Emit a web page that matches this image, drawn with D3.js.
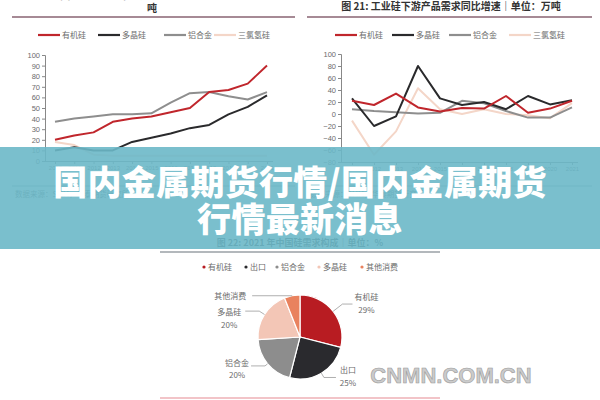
<!DOCTYPE html>
<html><head><meta charset="utf-8">
<script src="https://cdn.jsdelivr.net/npm/d3@7"></script>
<style>
html,body{margin:0;padding:0;background:#fff;}
svg{display:block;font-family:"Noto Sans CJK SC","Noto Sans",sans-serif;}
</style></head>
<body><svg id="c" width="600" height="400"></svg>
<script>
// ---------- data ----------
const seriesNames = ["有机硅","多晶硅","铝合金","三氯氢硅"];
const seriesColors = ["#c0262c","#2a2a2c","#8e8e8e","#f4d6c8"];
// Chart 20: demand (万吨)
const yearsA = ["2010","2011","2012","2013","2014","2015","2016","2017","2018","2019","2020","2021"];
const organicA = [20,24,27,37,40,42,46,50,65,67,73,90];
const polyA    = [10,13,10,10,18,22,26,31,34,44,51,62];
const alloyA   = [37,40,42,44,44,45,55,64,65,61,58,65];
const tcsA     = [18,15,6,5,5,5,5,5,5,5,5,5];
const yTicksA  = [0,10,20,30,40,50,60,70,80,90,100];
// Chart 21: YoY growth (%)
const yearsB = ["2011","2012","2013","2014","2015","2016","2017","2018","2019","2020","2021"];
const organicB = [22,15,34,11,4,10,9,30,2,9,22];
const polyB    = [26,-20,-4,80,26,15,20,8,30,16,23];
const alloyB   = [8,5,3,1,2,22,18,5,-6,-6,11];
const tcsB     = [-11,-68,-29,43,8,0,8,0,-2,-7,18];
const yTicksB  = [-80,-60,-40,-20,0,20,40,60,80,100];
// Chart 22: 2021 structure (%)
const pieNames  = ["有机硅","出口","铝合金","多晶硅","其他消费"];
const pieValues = [29,25,20,20,6];
const pieLabels = ["29%","25%","20%","20%",""];
const pieColors = ["#b81c22","#2a2a2e","#8d8d8d","#f3c6b6","#e9825e"];

const svg = d3.select("#c");
const txt = "#6b6b6b";

// ---------- headers ----------
svg.append("text").attr("x",150).attr("y",-1).attr("text-anchor","middle")
  .attr("font-size",10).attr("font-weight",700).attr("fill","#333")
  .text("图 20: 工业硅下游产品需求量｜单位：万");
svg.append("text").attr("x",152).attr("y",12).attr("text-anchor","middle")
  .attr("font-size",10).attr("font-weight",700).attr("fill","#333").text("吨");
svg.append("text").attr("x",451).attr("y",10).attr("text-anchor","middle")
  .attr("font-size",10).attr("font-weight",700).attr("fill","#333")
  .text("图 21: 工业硅下游产品需求同比增速｜单位：万吨");
[[12,295],[307,592]].forEach(([a,b])=>{
  svg.append("line").attr("x1",a).attr("x2",b).attr("y1",17).attr("y2",17)
    .attr("stroke","#a68a95").attr("stroke-width",2);
  svg.append("line").attr("x1",a).attr("x2",b).attr("y1",186).attr("y2",186)
    .attr("stroke","#9aa0a6").attr("stroke-width",1);
  svg.append("text").attr("x",a+3).attr("y",197).attr("font-size",7.5).attr("fill",txt)
    .text("数据来源：SMM，华泰期货研究所");
});

// ---------- legends for line charts ----------
function lineLegend(x0, gaps){
  const g = svg.append("g");
  let x = x0;
  seriesNames.forEach((n,i)=>{
    g.append("line").attr("x1",x).attr("x2",x+22).attr("y1",35).attr("y2",35)
      .attr("stroke",seriesColors[i]).attr("stroke-width",2.2);
    g.append("text").attr("x",x+24).attr("y",38).attr("font-size",8).attr("fill",txt).text(n);
    x += gaps[i];
  });
}
lineLegend(38,[60,66,50]);
lineLegend(335,[57,57,60]);

// ---------- line chart helper ----------
function lineChart(years, series, yDom, yTicks, xr, yr, axisX){
  const x = d3.scalePoint().domain(years).range(xr);
  const y = d3.scaleLinear().domain(yDom).range(yr);
  const ya = svg.append("g").attr("transform",`translate(${axisX},0)`)
    .call(d3.axisLeft(y).tickValues(yTicks).tickSize(3).tickPadding(2));
  ya.selectAll("text").attr("font-size",7.5).attr("fill",txt).attr("font-family","Liberation Sans, Arial");
  ya.selectAll("line,path").attr("stroke","#888");
  const xa = svg.append("g").attr("transform",`translate(0,${yr[0]})`)
    .call(d3.axisBottom(x).tickSize(3).tickPadding(2).tickSizeOuter(0));
  xa.select("path").attr("d",`M${axisX},0.5H${xr[1]+6}`);
  xa.selectAll("text").attr("font-size",6).attr("fill",txt).attr("font-family","Liberation Sans, Arial");
  xa.selectAll("line,path").attr("stroke","#888");
  const line = d3.line().x((d,i)=>x(years[i])).y(d=>y(d));
  [3,2,1,0].forEach(i=>{
    svg.append("path").datum(series[i]).attr("d",line).attr("fill","none")
      .attr("stroke",seriesColors[i]).attr("stroke-width",2).attr("stroke-linejoin","round");
  });
}
lineChart(yearsA,[organicA,polyA,alloyA,tcsA],[0,100],yTicksA,[55,267],[161,55],45);
lineChart(yearsB,[organicB,polyB,alloyB,tcsB],[-80,100],yTicksB,[352,572],[162,54],341);

// ---------- pie chart ----------
svg.append("text").attr("x",300).attr("y",246).attr("text-anchor","middle")
  .attr("font-size",9).attr("font-weight",700).attr("fill","#333")
  .text("图 22: 2021 年中国硅需求构成｜单位：%");
svg.append("line").attr("x1",160).attr("x2",440).attr("y1",252).attr("y2",252)
  .attr("stroke","#9aa0a6").attr("stroke-width",1.5);
svg.append("line").attr("x1",160).attr("x2",440).attr("y1",398).attr("y2",398)
  .attr("stroke","#f2c4c8").attr("stroke-width",2);

const legX = [204,246,277,319,362];
pieNames.forEach((n,i)=>{
  svg.append("circle").attr("cx",legX[i]).attr("cy",267).attr("r",1.6).attr("fill",pieColors[i]);
  svg.append("text").attr("x",legX[i]+4).attr("y",270).attr("font-size",8).attr("fill",txt).text(n);
});

const cx=300, cy=337, R=42;
const pie = d3.pie().sort(null).value(d=>d)(pieValues);
const arc = d3.arc().innerRadius(0).outerRadius(R);
const pg = svg.append("g").attr("transform",`translate(${cx},${cy})`);
pg.selectAll("path").data(pie).join("path").attr("d",arc)
  .attr("fill",(d,i)=>pieColors[i]).attr("stroke","#fff").attr("stroke-width",1.2);

const labelLayout = [
  {elbow:1.28, dx:10, lx:14, ly:-2},
  {elbow:1.12, dx:12, lx:12, ly:-2},
  {elbow:1.08, dx:-14, lx:-14, ly:2},
  {elbow:1.15, dx:-14, lx:-16, ly:6},
  {elbow:1.0, dx:-40, lx:-22, ly:0}
];
pie.forEach((d,i)=>{
  const a = (d.startAngle+d.endAngle)/2;
  const L = labelLayout[i];
  const p1 = [Math.sin(a)*R, -Math.cos(a)*R];
  const p2 = [Math.sin(a)*R*L.elbow, -Math.cos(a)*R*L.elbow];
  const p3 = [p2[0]+L.dx, p2[1]];
  pg.append("polyline").attr("points",[p1,p2,p3].map(p=>p.join(",")).join(" "))
    .attr("fill","none").attr("stroke","#9a9a9a").attr("stroke-width",0.8);
  const tx = p3[0]+L.lx, ty = p3[1]+L.ly;
  const t = pg.append("text").attr("x",tx).attr("y",ty).attr("text-anchor","middle")
    .attr("font-size",8).attr("fill",txt);
  if(pieLabels[i]){
    t.append("tspan").attr("x",tx).attr("dy",-2).text(pieNames[i]);
    t.append("tspan").attr("x",tx).attr("dy",12.5).text(pieLabels[i]);
  } else {
    t.attr("dy",3).text(pieNames[i]);
  }
});

// ---------- banner overlay ----------
svg.append("rect").attr("x",0).attr("y",147).attr("width",600).attr("height",102)
  .attr("fill","rgb(108,184,200)").attr("fill-opacity",0.9);
svg.append("text").attr("x",300).attr("y",195).attr("text-anchor","middle")
  .attr("font-size",34).attr("font-weight",900).attr("fill","#fff").attr("letter-spacing",0.3)
  .text("国内金属期货行情/国内金属期货");
svg.append("text").attr("x",300).attr("y",232).attr("text-anchor","middle")
  .attr("font-size",34).attr("font-weight",900).attr("fill","#fff").attr("letter-spacing",0.3)
  .text("行情最新消息");

// ---------- watermark ----------
svg.append("text").attr("x",451).attr("y",383).attr("text-anchor","middle")
  .attr("font-family","Liberation Sans, Arial").attr("font-size",22).attr("font-weight",700)
  .attr("fill","#c4c4c4").attr("stroke","#9c9c9c").attr("stroke-width",0.6)
  .attr("fill-opacity",0.9).text("CNMN.COM.CN");
</script></body></html>
